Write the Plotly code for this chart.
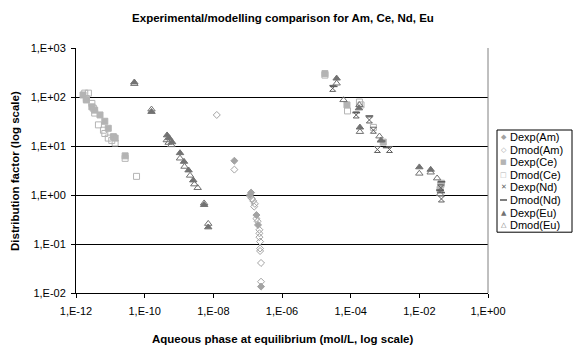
import plotly.graph_objects as go

# ---------------- data ----------------
am_exp_x = [4.1e-8, 1.17e-7, 1.26e-7, 1.8e-7, 2.0e-7, 2.45e-7]
am_exp_y = [5.0, 1.0, 1.12, 0.39, 0.245, 0.0135]
am_mod_x = [1.26e-8, 4.1e-8, 1.17e-7, 1.32e-7, 1.45e-7, 1.62e-7, 1.55e-7, 1.8e-7, 1.95e-7,
            2.2e-7, 2.2e-7, 2.2e-7, 2.3e-7, 2.3e-7, 2.3e-7, 2.45e-7, 2.45e-7]
am_mod_y = [43, 3.3, 0.95, 0.85, 0.76, 0.66, 0.58, 0.33, 0.29,
            0.195, 0.165, 0.138, 0.112, 0.081, 0.072, 0.041, 0.017]

ce_exp_x = [1.6e-12, 2.0e-12, 2.9e-12, 3.5e-12, 5.0e-12, 6.9e-12, 8.7e-12, 1.23e-11, 1.38e-11,
            2.7e-11, 1.78e-5, 7.8e-5, 8.9e-4, 0.044, 0.040]
ce_exp_y = [110, 87, 63, 54, 43, 32, 23, 15.5, 14.5,
            6.3, 300, 69, 12, 1.74, 1.3]
ce_mod_x = [1.8e-12, 2.3e-12, 2.0e-12, 2.9e-12, 3.2e-12, 3.5e-12, 4.5e-12, 6.3e-12, 6.9e-12,
            8.7e-12, 1.1e-11, 1.38e-11, 2.7e-11, 5.8e-11, 1.78e-5, 8.1e-5, 1.8e-4, 2.0e-4,
            4.6e-4, 0.042]
ce_mod_y = [120, 120, 93, 74, 59, 47, 27, 21, 18,
            14.5, 13, 11.5, 5.6, 2.4, 280, 52, 79, 69,
            24, 1.6]

nd_exp_x = [3.0e-5, 1.45e-4, 3.5e-4, 4.6e-4, 6.0e-4, 1.35e-3, 0.042, 0.044]
nd_exp_y = [150, 43, 34, 21, 8.5, 8.5, 1.4, 0.83]
nd_mod_x = [3.2e-5, 1.45e-4, 3.5e-4, 7.9e-4, 1.12e-3, 0.044, 0.040, 0.043]
nd_mod_y = [165, 48, 41, 12.6, 9.3, 1.86, 1.26, 1.12]

eu_exp_x = [5.0e-11, 1.58e-10, 4.5e-10, 5.2e-10, 6.3e-10, 1.07e-9, 1.4e-9, 1.9e-9, 2.6e-9,
            5.4e-9, 7.1e-9, 3.9e-5, 1.74e-4, 1.86e-4, 7.6e-4, 0.010, 0.0214]
eu_exp_y = [200, 50, 16.6, 14.5, 12, 7.2, 4.8, 3.2, 2.0,
            0.63, 0.22, 240, 59, 24, 13, 3.7, 3.3]
eu_mod_x = [5.0e-11, 1.58e-10, 4.4e-10, 5.0e-10, 6.0e-10, 1.07e-9, 1.45e-9, 2.1e-9, 2.8e-9,
            3.5e-9, 5.4e-9, 7.1e-9, 3.9e-5, 6.2e-5, 1.8e-4, 1.86e-4, 6.9e-4, 0.010,
            0.0214, 0.033, 0.040]
eu_mod_y = [186, 56, 13.2, 11.7, 10.5, 5.6, 3.8, 2.5, 1.66,
            1.4, 0.68, 0.26, 190, 87, 69, 19.5, 15.8, 2.75,
            2.9, 2.2, 1.05]

x_tickvals = [1e-12, 1e-10, 1e-8, 1e-6, 1e-4, 1e-2, 1e0]
x_ticktext = ["1,E-12", "1,E-10", "1,E-08", "1,E-06", "1,E-04", "1,E-02", "1,E+00"]
y_tickvals = [1e-2, 1e-1, 1e0, 1e1, 1e2, 1e3]
y_ticktext = ["1,E-02", "1,E-01", "1,E+00", "1,E+01", "1,E+02", "1,E+03"]

series_names = ["Dexp(Am)", "Dmod(Am)", "Dexp(Ce)", "Dmod(Ce)",
                "Dexp(Nd)", "Dmod(Nd)", "Dexp(Eu)", "Dmod(Eu)"]

chart_title = "Experimental/modelling comparison for Am, Ce, Nd, Eu"
x_title = "Aqueous phase at equilibrium (mol/L, log scale)"
y_title = "Distribution factor (log scale)"

# ---------------- styling ----------------
C_AM = "#a3a3a3"
C_CE = "#b4b4b4"
C_ND = "#5e5e5e"
C_EU = "#727272"
FONT = "Liberation Sans, Arial, sans-serif"

styles = [
    (am_exp_x, am_exp_y, "diamond", 5.4, C_AM),
    (am_mod_x, am_mod_y, "diamond-open", 5.4, C_AM),
    (ce_exp_x, ce_exp_y, "square", 6, C_CE),
    (ce_mod_x, ce_mod_y, "square-open", 6, C_CE),
    (nd_exp_x, nd_exp_y, "hourglass-open", 6, C_ND),
    (nd_mod_x, nd_mod_y, "line-ew-open", 5.5, C_ND),
    (eu_exp_x, eu_exp_y, "triangle-up", 6.5, C_EU),
    (eu_mod_x, eu_mod_y, "triangle-up-open", 6.5, C_EU),
]

fig = go.Figure()
for name, (xs, ys, sym, sz, col) in zip(series_names, styles):
    lw = 1.6 if sym == "line-ew-open" else 1
    fig.add_trace(go.Scatter(
        x=xs, y=ys, mode="markers", name=name, showlegend=False,
        marker=dict(symbol=sym, size=sz, color=col, line=dict(width=lw, color=col)),
    ))

L, R, T, B = 76, 87, 48, 59
W, H = 575, 352
PW, PH = W - L - R, H - T - B

def px(xp):
    return (xp - L) / PW

def py(yp):
    return (H - B - yp) / PH

fig.update_layout(
    width=W, height=H,
    margin=dict(l=L, r=R, t=T, b=B, autoexpand=False),
    paper_bgcolor="white", plot_bgcolor="white",
    font=dict(family=FONT, size=11, color="black"),
    title=dict(text="<b>" + chart_title + "</b>",
               x=(283 / W), xanchor="center", y=1 - 18 / H, yanchor="middle",
               font=dict(size=11.5, family=FONT, color="black")),
    xaxis=dict(type="log", range=[-12, 0], tickvals=x_tickvals, ticktext=x_ticktext,
               showgrid=False, zeroline=False, showline=True, linecolor="black", linewidth=1,
               ticks="outside", ticklen=4, tickcolor="black", tickwidth=1,
               ticklabelstandoff=4, automargin=False,
               tickfont=dict(size=11, family=FONT)),
    yaxis=dict(type="log", range=[-2, 3], tickvals=y_tickvals, ticktext=y_ticktext,
               showgrid=True, gridcolor="black", gridwidth=1, zeroline=False,
               showline=True, linecolor="black", linewidth=1,
               ticks="outside", ticklen=4, tickcolor="black", tickwidth=1,
               ticklabelstandoff=3, automargin=False,
               tickfont=dict(size=11, family=FONT)),
)

# axis titles
fig.add_annotation(xref="paper", yref="paper", x=px(283), y=py(339),
                   text="<b>" + x_title + "</b>", showarrow=False,
                   xanchor="center", yanchor="middle",
                   font=dict(size=11.5, family=FONT, color="black"))
fig.add_annotation(xref="paper", yref="paper", x=px(15), y=py(171),
                   text="<b>" + y_title + "</b>", showarrow=False, textangle=-90,
                   xanchor="center", yanchor="middle",
                   font=dict(size=11.5, family=FONT, color="black"))

# right border of plot area
fig.add_shape(type="line", xref="paper", yref="paper", x0=1, x1=1, y0=0, y1=1,
              line=dict(color="#808080", width=1))

# legend (drawn manually to match Excel's compact spacing)
box_top, item_gap = 130, 12.6
n = len(series_names)
box_bottom = box_top + 7 + item_gap * (n - 1) + 7
fig.add_shape(type="rect", xref="paper", yref="paper",
              x0=px(497), x1=px(572), y0=py(box_bottom), y1=py(box_top),
              line=dict(color="black", width=1), fillcolor="white")
glyphs = [("◆", C_AM, 7), ("◇", C_AM, 7), ("■", C_CE, 7), ("□", C_CE, 7),
          ("✕", C_ND, 7), (None, C_ND, 7), ("▲", C_EU, 7), ("△", C_EU, 7)]
for i, (name, (g, col, gs)) in enumerate(zip(series_names, glyphs)):
    yc = box_top + 7 + item_gap * i
    if g is None:
        fig.add_shape(type="line", xref="paper", yref="paper",
                      x0=px(500), x1=px(507), y0=py(yc), y1=py(yc),
                      line=dict(color=col, width=1.6))
    else:
        fig.add_annotation(xref="paper", yref="paper", x=px(503.5), y=py(yc),
                           text=g, showarrow=False, xanchor="center", yanchor="middle",
                           font=dict(size=gs, color=col, family="DejaVu Sans"))
    fig.add_annotation(xref="paper", yref="paper", x=px(508), y=py(yc),
                       text=name, showarrow=False, xanchor="left", yanchor="middle",
                       font=dict(size=11, color="black", family=FONT))

fig.write_html(
    "out.html",
    config={"displayModeBar": False},
    post_script="document.body.style.margin='0';document.body.style.overflow='hidden';",
)
